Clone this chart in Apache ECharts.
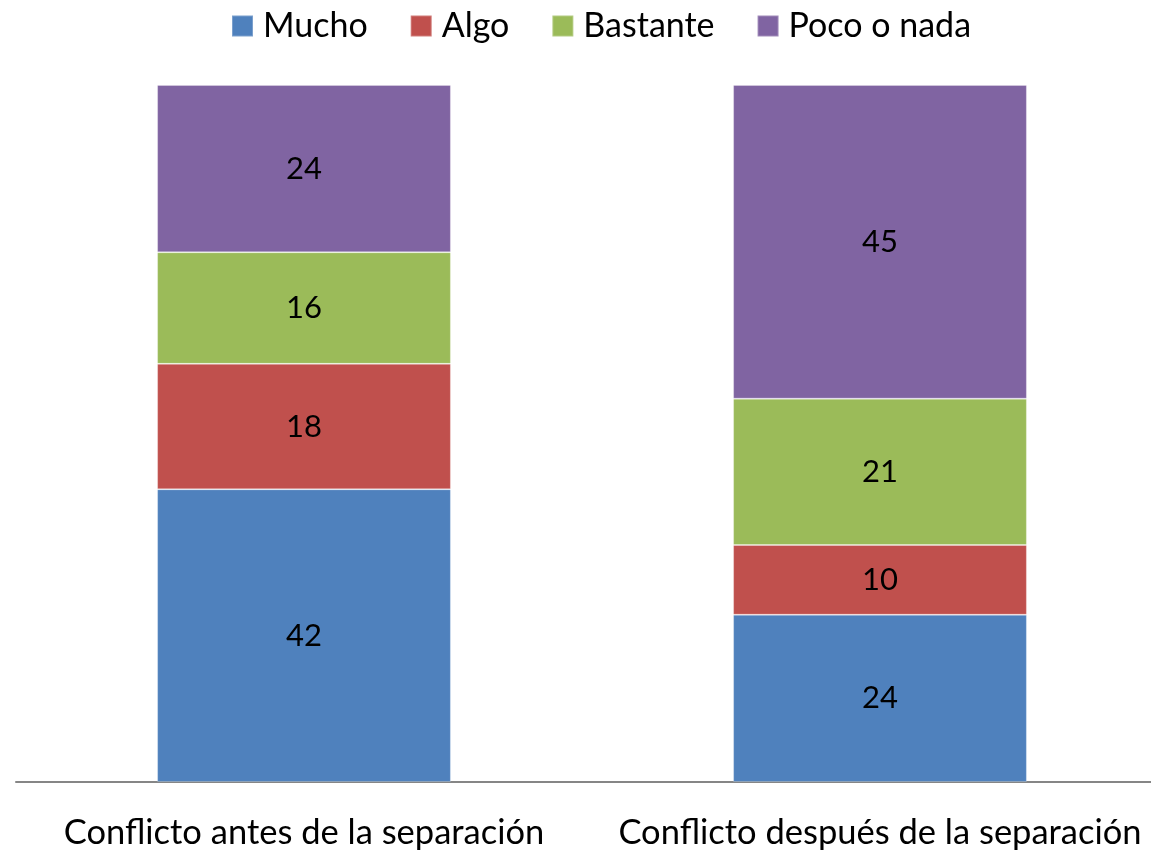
<!DOCTYPE html>
<html><head><meta charset="utf-8">
<script src="https://cdn.jsdelivr.net/npm/echarts@6/dist/echarts.min.js"></script>
<style>html,body{margin:0;padding:0;background:#fff}#c{width:1151px;height:852px}</style>
</head><body><div id="c"></div>
<script>
const categories = ['Conflicto antes de la separación', 'Conflicto después de la separación'];
const mucho = [42, 24];
const algo = [18, 10];
const bastante = [16, 21];
const poco = [24, 45];
const seriesNames = ['Mucho', 'Algo', 'Bastante', 'Poco o nada'];
const colors = ['#4F81BD', '#C0504D', '#9BBB59', '#8064A2'];
const font = 'Lato, "Open Sans", sans-serif';
const chart = echarts.init(document.getElementById('c'));
const mk = (name, data, i) => ({
  name, type: 'bar', stack: 'a', data, barWidth: '51%',
  itemStyle: { color: colors[i], borderColor: 'rgba(255,255,255,0.25)', borderWidth: 1 },
  label: { show: true, position: 'inside', color: '#000', fontSize: 31, fontFamily: font },
  emphasis: { disabled: true }
});
chart.setOption({
  animation: false,
  color: colors,
  legend: {
    top: 4, left: 226, itemWidth: 21, itemHeight: 21, itemGap: 42,
    icon: 'rect',
    textStyle: { fontSize: 34, fontFamily: font, color: '#000', padding: [0, 0, 0, 5] },
    data: seriesNames
  },
  grid: { left: 16, width: 1152, top: 85, height: 697, containLabel: false, outerBoundsMode: 'none' },
  xAxis: {
    type: 'category', data: categories,
    axisLine: { lineStyle: { color: '#868686', width: 2 } },
    axisTick: { show: false },
    axisLabel: { color: '#000', fontSize: 34.5, fontFamily: font, margin: 33, interval: 0, hideOverlap: false }
  },
  yAxis: { type: 'value', min: 0, max: 100, show: false },
  series: [mk(seriesNames[0], mucho, 0), mk(seriesNames[1], algo, 1), mk(seriesNames[2], bastante, 2), mk(seriesNames[3], poco, 3)]
});
</script></body></html>
